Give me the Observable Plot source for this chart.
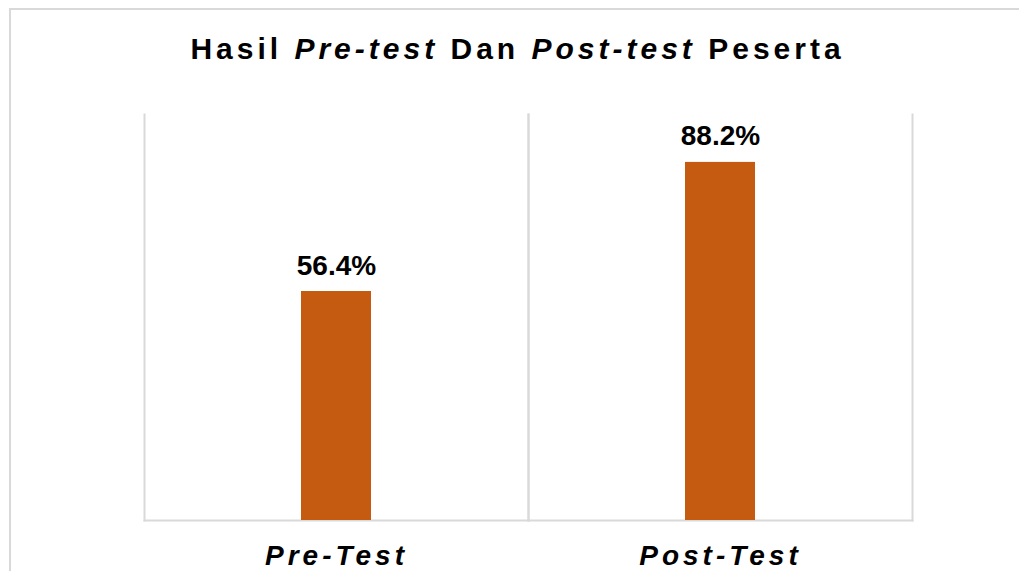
<!DOCTYPE html>
<html>
<head>
<meta charset="utf-8">
<script src="https://cdn.jsdelivr.net/npm/d3@7"></script>
<script src="https://cdn.jsdelivr.net/npm/@observablehq/plot@0.6"></script>
<style>
  html, body { margin: 0; padding: 0; background: #fff; }
  body { width: 1019px; height: 571px; overflow: hidden; position: relative; font-family: "Liberation Sans", Arial, sans-serif; }
  #border { position: absolute; left: 9px; top: 8px; width: 1020px; height: 600px; border-left: 2px solid #d9d9d9; border-top: 2px solid #d9d9d9; box-sizing: border-box; }
  #title { position: absolute; left: 8px; top: 34px; width: 1019px; text-align: center; font-size: 30px; line-height: 30px; font-weight: bold; letter-spacing: 4px; color: #000; white-space: nowrap; }
  #chart { position: absolute; left: 0; top: 0; }
  .catlabels text { letter-spacing: 4px; }
</style>
</head>
<body>
<div id="border"></div>
<div id="title">Hasil <i>Pre-test</i> Dan <i>Post-test</i> Peserta</div>
<div id="chart"></div>
<script>
const categories = ["Pre-Test", "Post-Test"];
const values = [56.4, 88.2];
const valueLabels = ["56.4%", "88.2%"];

const data = categories.map((c, i) => ({category: c, value: values[i], label: valueLabels[i]}));
const grid = "#d9d9d9";

const chart = Plot.plot({
  width: 1019,
  height: 571,
  marginLeft: 144,
  marginRight: 107,
  marginTop: 114,
  marginBottom: 51,
  style: {fontFamily: "'Liberation Sans', Arial, sans-serif", background: "transparent", overflow: "visible"},
  fx: {domain: categories, padding: 0},
  y: {domain: [0, 100], axis: null},
  marks: [
    Plot.frame({anchor: "left", stroke: grid, strokeWidth: 2, strokeOpacity: 1}),
    Plot.frame({anchor: "right", stroke: grid, strokeWidth: 2, strokeOpacity: 1}),
    Plot.frame({anchor: "bottom", stroke: grid, strokeWidth: 2, strokeOpacity: 1}),
    Plot.barY(data, {fx: "category", y: "value", fill: "#C55A11", insetLeft: 157, insetRight: 157}),
    Plot.text(data, {fx: "category", y: "value", text: "label", lineAnchor: "bottom", dy: -17, fontSize: 28, fontWeight: "bold", fill: "#000"}),
    Plot.axisFx({anchor: "bottom", tickSize: 0, tickPadding: 25, label: null, fontSize: 28, fontWeight: "bold", fontStyle: "italic", fill: "#000", className: "catlabels"})
  ]
});
document.getElementById("chart").appendChild(chart);
</script>
</body>
</html>
